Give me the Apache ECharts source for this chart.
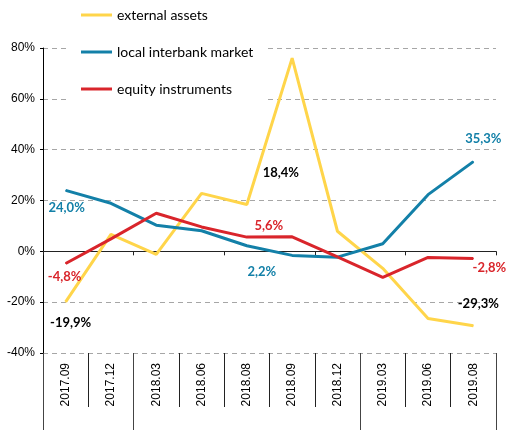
<!DOCTYPE html>
<html>
<head>
<meta charset="utf-8">
<script src="https://cdn.jsdelivr.net/npm/echarts@6/dist/echarts.min.js"></script>
<style>
  html, body { margin: 0; padding: 0; background: #fff; }
  #chart { width: 510px; height: 430px; }
</style>
</head>
<body>
<div id="chart"></div>
<script>
var categories = ['2017.09', '2017.12', '2018.03', '2018.06', '2018.08', '2018.09', '2018.12', '2019.03', '2019.06', '2019.08'];
var externalAssets = [-19.9, 6.7, -1.2, 22.8, 18.4, 76.0, 7.9, -6.7, -26.4, -29.3];
var localInterbank = [24.0, 18.9, 10.3, 8.1, 2.2, -1.6, -2.3, 3.0, 22.3, 35.3];
var equityInstruments = [-4.8, 4.9, 15.0, 9.6, 5.6, 5.7, -2.2, -10.2, -2.4, -2.8];
var yTicks = { min: -40, max: 80, step: 20 };
// first index of each year group (2017, 2018, 2019)
var yearStarts = [0, 2, 7];

var YELLOW = '#FFD54A';
var BLUE = '#1380A8';
var RED = '#D9252B';
var FONT = 'Lato';

function fmt(v) {
    return v.toFixed(1).replace('.', ',') + '%';
}

// put a label on one point, offset from it
function labelled(values, idx, color, offset) {
    return values.map(function (v, i) {
        if (i !== idx) return v;
        return {
            value: v,
            label: {
                show: true,
                position: 'inside',
                offset: offset,
                formatter: function (p) { return fmt(p.value); },
                color: color,
                fontFamily: FONT,
                fontWeight: 'bold',
                fontSize: 13
            }
        };
    });
}

function withLabels(values, list) {
    var out = values.slice();
    list.forEach(function (l) {
        out[l[0]] = labelled(values, l[0], l[1], l[2])[l[0]];
    });
    return out;
}

var chart = echarts.init(document.getElementById('chart'));

var option = {
    animation: false,
    backgroundColor: '#fff',
    textStyle: { fontFamily: FONT },
    grid: { left: 43, right: 14, top: 48, bottom: 77 },
    legend: {
        orient: 'vertical',
        left: 67,
        top: 0,
        padding: [8, 12, 8, 14],
        backgroundColor: '#fff',
        itemGap: 23,
        itemWidth: 31,
        itemHeight: 3,
        icon: 'rect',
        textStyle: { fontFamily: FONT, fontSize: 14, color: '#000' },
        data: ['external assets', 'local interbank market', 'equity instruments']
    },
    xAxis: [{
        // axis through zero with short ticks
        type: 'category',
        data: categories,
        axisLine: { onZero: true, lineStyle: { color: '#222', width: 1 } },
        axisTick: { show: true, length: 4, lineStyle: { color: '#222' } },
        axisLabel: { show: false },
        splitLine: { show: false }
    }, {
        // category labels under the plot
        type: 'category',
        data: categories,
        position: 'bottom',
        axisLine: { show: false },
        axisTick: { show: true, length: 54, lineStyle: { color: '#222' } },
        axisLabel: {
            rotate: 90,
            margin: 10,
            fontFamily: 'Liberation Sans',
            fontSize: 12,
            color: '#000'
        }
    }, {
        // year group separators
        type: 'category',
        data: categories,
        position: 'bottom',
        axisLine: { show: false },
        axisTick: {
            show: true,
            length: 77,
            interval: function (index) { return yearStarts.indexOf(index) >= 0; },
            lineStyle: { color: '#444' }
        },
        axisLabel: { show: false }
    }],
    yAxis: {
        type: 'value',
        min: yTicks.min,
        max: yTicks.max,
        interval: yTicks.step,
        axisLine: { show: true, lineStyle: { color: '#000' } },
        axisTick: { show: true, length: 3, lineStyle: { color: '#000' } },
        axisLabel: {
            formatter: '{value}%',
            fontFamily: 'Liberation Sans',
            fontSize: 12,
            color: '#000',
            margin: 8
        },
        splitLine: { lineStyle: { color: '#A6A6A6', type: [5, 4], width: 1 } }
    },
    series: [{
        name: 'external assets',
        type: 'line',
        color: YELLOW,
        symbol: 'circle',
        symbolSize: 1,
        lineStyle: { width: 3, color: YELLOW },
        data: withLabels(externalAssets, [
            [0, '#000', [5, 21]],
            [4, '#000', [34, -32]],
            [9, '#000', [5, -22]]
        ]),
        z: 3
    }, {
        name: 'local interbank market',
        type: 'line',
        color: BLUE,
        symbol: 'circle',
        symbolSize: 1,
        lineStyle: { width: 3, color: BLUE },
        data: withLabels(localInterbank, [
            [0, BLUE, [1, 17]],
            [4, BLUE, [15, 26]],
            [9, BLUE, [10, -23]]
        ]),
        z: 3
    }, {
        name: 'equity instruments',
        type: 'line',
        color: RED,
        symbol: 'circle',
        symbolSize: 1,
        lineStyle: { width: 3, color: RED },
        data: withLabels(equityInstruments, [
            [0, RED, [-1, 13]],
            [4, RED, [22, -11]],
            [9, RED, [16, 9]]
        ]),
        z: 3
    }]
};

chart.setOption(option);
</script>
</body>
</html>
